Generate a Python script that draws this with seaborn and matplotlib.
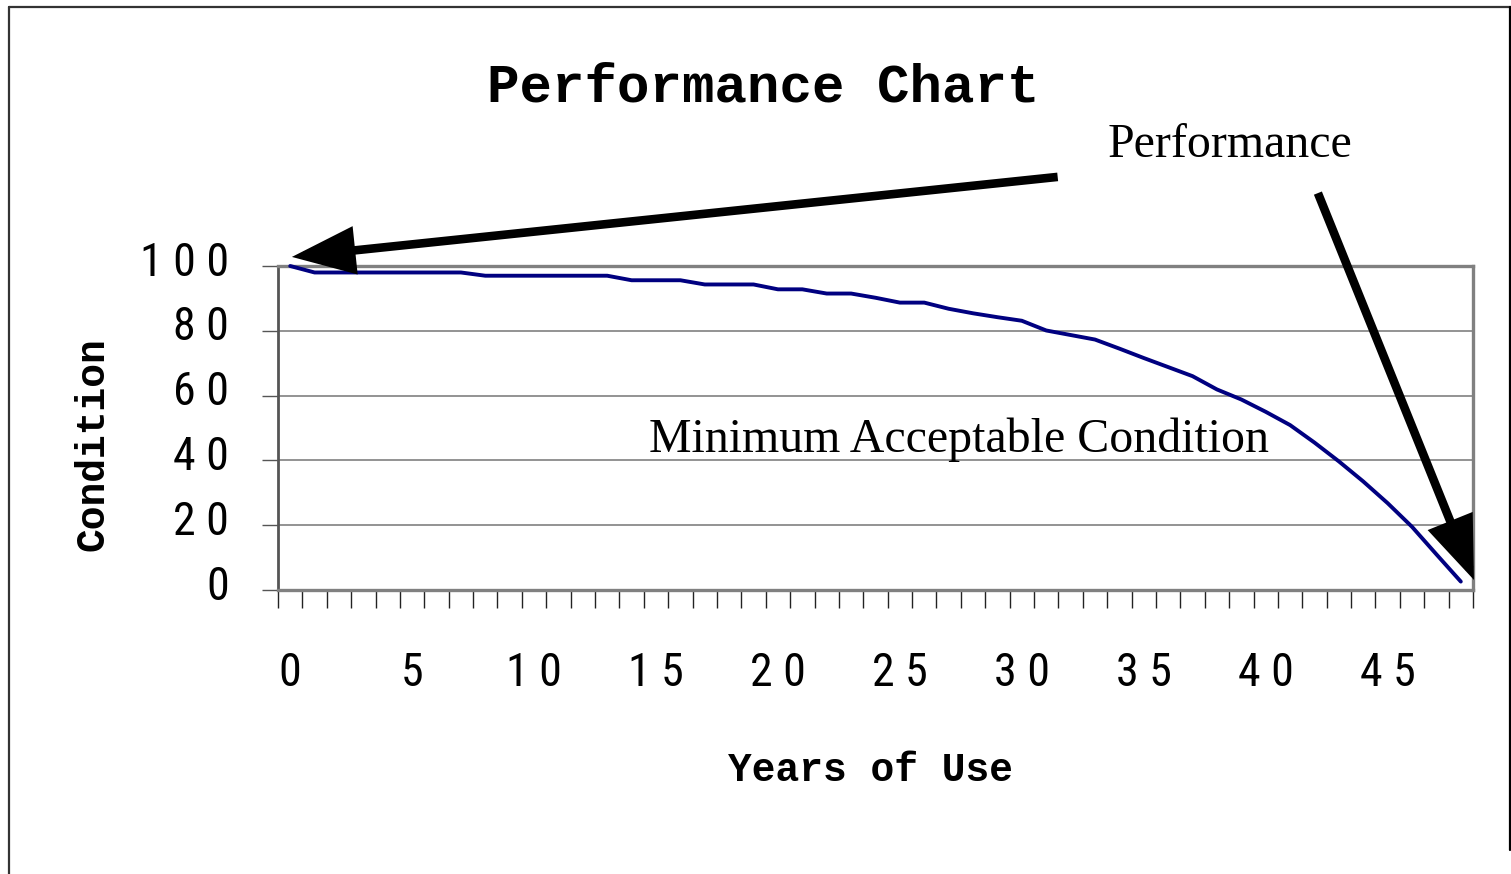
import matplotlib
matplotlib.use("Agg")
import matplotlib.pyplot as plt
import seaborn as sns
import pandas as pd
from matplotlib.lines import Line2D
from matplotlib.transforms import ScaledTranslation
from matplotlib import font_manager as fm

# ---- data ----
years = list(range(49))
condition = [100, 98, 98, 98, 98, 98, 98, 98, 97, 97, 97, 97, 97, 97,
             95.6, 95.6, 95.6, 94.3, 94.3, 94.3, 92.8, 92.8, 91.5, 91.5,
             90.2, 88.7, 88.7, 86.8, 85.4, 84.2, 83.1, 80.1, 78.7, 77.3,
             74.5, 71.6, 68.8, 66.0, 61.9, 58.8, 55.0, 50.9, 45.5, 39.7,
             33.5, 26.8, 19.5, 11.0, 2.6]
x_tick_values = [0, 5, 10, 15, 20, 25, 30, 35, 40, 45]
y_tick_values = [0, 20, 40, 60, 80, 100]
title_text = "Performance Chart"
x_label = "Years of Use"
y_label = "Condition"
note_top = "Performance"
note_mid = "Minimum Acceptable Condition"

df = pd.DataFrame({"Years of Use": years, "Condition": condition})

sns.set_style("white")
plt.rcParams["font.family"] = ["DejaVu Sans"]
for k in ["text.color", "axes.labelcolor", "xtick.color", "ytick.color"]:
    plt.rcParams[k] = "black"

# pick a condensed face if one exists
names = {f.name for f in fm.fontManager.ttflist}
cond_stretch = {f.name for f in fm.fontManager.ttflist if str(f.stretch) in ("condensed", "semi-condensed", "extra-condensed")}
narrow = None
for cand in ["Liberation Sans Narrow", "Roboto Condensed", "Open Sans Condensed", "Noto Sans Condensed"]:
    if cand in names:
        narrow = dict(family=[cand, "DejaVu Sans"])
        break
if narrow is None:
    for cand in ["DejaVu Sans", "Noto Sans", "Roboto", "Open Sans"]:
        if cand in cond_stretch:
            narrow = dict(family=[cand], stretch="condensed")
            break
if narrow is None:
    narrow = dict(family=["Liberation Sans", "DejaVu Sans"])
    tick_size = 29
    sep = "\u2009"
else:
    tick_size = 33
    sep = " "

mono = ["Liberation Mono", "DejaVu Sans Mono"]
serif = ["Liberation Serif", "DejaVu Serif"]

fig = plt.figure(figsize=(15.11, 8.74), dpi=100)
fig.patch.set_facecolor("white")
ax = fig.add_axes([278 / 1511, 1 - 590 / 874, (1473 - 278) / 1511, (590 - 266) / 874])

sns.lineplot(data=df, x="Years of Use", y="Condition", ax=ax,
             color="#000080", linewidth=2.8, zorder=5, clip_on=False)

ax.set_xlim(-0.5, 48.5)
ax.set_ylim(0, 100)

# y axis
ax.set_yticks(y_tick_values)
ax.set_yticklabels([sep.join(str(v)) for v in y_tick_values], fontsize=tick_size, **narrow)
ax.tick_params(axis="y", direction="out", length=11.5, width=1, color="#555555",
               pad=24, left=True)
for lab in ax.get_yticklabels():
    lab.set_transform(lab.get_transform() + ScaledTranslation(0, 8 / 100, fig.dpi_scale_trans))
ax.yaxis.grid(True, color="#808080", linewidth=1.2)
ax.xaxis.grid(False)

# x axis
ax.set_xticks(x_tick_values)
ax.set_xticklabels([sep.join(str(v)) for v in x_tick_values], fontsize=tick_size, **narrow)
ax.set_xticks([i - 0.5 for i in range(50)], minor=True)
ax.tick_params(axis="x", which="major", length=0, pad=44)
ax.tick_params(axis="x", which="minor", direction="out", length=13, width=1,
               color="#222222", bottom=True)

for side in ["top", "right", "bottom"]:
    ax.spines[side].set_color("#808080")
    ax.spines[side].set_linewidth(2.4)
ax.spines["left"].set_color("#555555")
ax.spines["left"].set_linewidth(2.0)

ax.set_xlabel(x_label, family=mono, fontweight="bold", fontsize=28.5, va="center")
ax.xaxis.set_label_coords(0.496, -0.556)
ax.set_ylabel(y_label, family=mono, fontweight="bold", fontsize=28.5, va="center")
ax.yaxis.set_label_coords(-0.155, 0.45)

fig.text(763 / 1511, 1 - 87 / 874, title_text, family=mono, fontweight="bold",
         fontsize=39, ha="center", va="center")

# annotations
ax.text(38.53, 137.3, note_top, family=serif, fontsize=34.5, ha="center", va="center")
ax.text(27.42, 46.3, note_mid, family=serif, fontsize=34.5, ha="center", va="center", zorder=6)

arrow_kw = dict(arrowstyle="-|>,head_length=34,head_width=13", color="black",
                lw=6.2, mutation_scale=1, shrinkA=0, shrinkB=0,
                capstyle="butt", joinstyle="miter")
ax.annotate("", xy=(0.07, 102.8), xytext=(31.47, 127.5), arrowprops=arrow_kw,
            annotation_clip=False, zorder=7)
ax.annotate("", xy=(48.54, 3.1), xytext=(42.14, 122.5), arrowprops=arrow_kw,
            annotation_clip=False, zorder=7)

# outer frame
fc = "#333333"
fig.add_artist(Line2D([8.5 / 1511, 1], [1 - 6.5 / 874] * 2, transform=fig.transFigure, color=fc, lw=1.6))
fig.add_artist(Line2D([8.5 / 1511] * 2, [0, 1 - 6.5 / 874], transform=fig.transFigure, color=fc, lw=1.6))
fig.add_artist(Line2D([1509.5 / 1511] * 2, [1 - 850 / 874, 1 - 6.5 / 874], transform=fig.transFigure, color="black", lw=1.6))

fig.savefig("out.png", dpi=100, facecolor="white")
